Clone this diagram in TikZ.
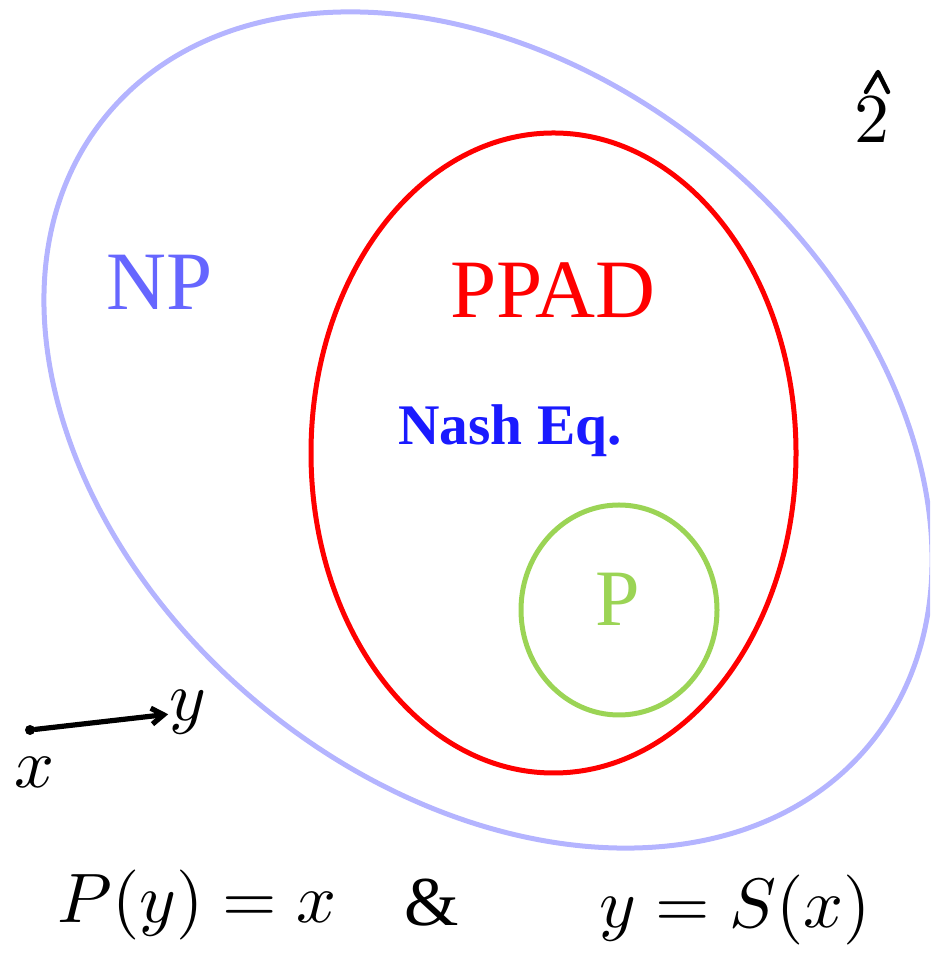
\documentclass[tikz,border=0pt]{standalone}
\usepackage{fontspec}
\setmainfont{Liberation Serif}
\usetikzlibrary{arrows.meta, positioning}
\definecolor{npblue}{RGB}{102, 102, 255}
\definecolor{npring}{RGB}{180, 180, 255}
\definecolor{ppadred}{RGB}{255, 0, 0}
\definecolor{nashblue}{RGB}{26, 26, 255}
\definecolor{pgreen}{RGB}{155, 212, 85}

\begin{document}
\begin{tikzpicture}[x=0.5pt, y=0.5pt,
        classlabel/.style={anchor=base, inner sep=0pt, font=\fontsize{41.5}{46}\selectfont},
        pen/.style={black, line width=2.6pt, line cap=round, line join=round},
        inkbox/.style={inner sep=0pt, scale=3.5}
    ]
        \useasboundingbox (0,0) rectangle (930,962);
        \clip (0,0) rectangle (930,962);
        % complexity classes
        \draw[npring, line width=2.5pt, rotate around={-39.5:(488,532)}] (488,532) ellipse [x radius=494.5, y radius=357];
        \draw[ppadred, line width=2.5pt] (553.5,509) ellipse [x radius=242.5, y radius=320];
        \draw[pgreen, line width=2.5pt] (619,352) ellipse [x radius=98, y radius=105];
        \node[classlabel, npblue] (np) at (160,652) {NP};
        \node[classlabel, ppadred] (ppad) at (553,644) {PPAD};
        \node[classlabel, nashblue, font=\fontsize{28.7}{32}\selectfont\bfseries] (nash) at (510,517) {Nash Eq.};
        \node[classlabel, pgreen, font=\fontsize{40}{44}\selectfont] (p) at (618,336) {P};
        % handwritten notes
        \node[circle, fill=black, inner sep=0pt, minimum size=5pt] (xdot) at (30,232) {};
        \node[inkbox] (ylab) at (188,250) {$y$};
        \node[inkbox] (xlab) at (35,190) {$x$};
        \draw[pen, -{Straight Barb[length=6pt, width=8pt]}] (xdot) -- (ylab);
        \node[inkbox] (two) at (872,842) {$2$};
        \coordinate (hattop) at (878,890);
        \draw[pen, line width=2.2pt] ([xshift=-6pt, yshift=-10pt]hattop) -- (hattop) -- ([xshift=5pt, yshift=-10pt]hattop);
        \node[inkbox] (lhs) at (197,57) {$P(y)=x$};
        \node[inkbox] (amp) at (432,59) {$\&$};
        \node[inkbox] (rhs) at (735,52) {$y=S(x)$};
    \end{tikzpicture}
\end{document}
